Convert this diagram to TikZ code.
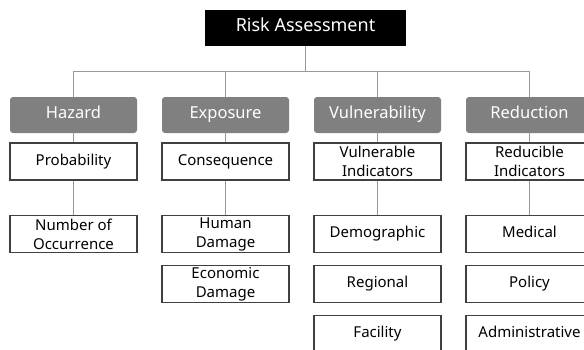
\documentclass[tikz,border=0pt]{standalone}
\usepackage{fontspec}
\setmainfont{Noto Sans}
\usetikzlibrary{positioning,calc}
\tikzstyle{rootbox} = [
rectangle,
fill=black,
text=white,
minimum width=201pt,
minimum height=36pt,
text height=0.75em,
text depth=0.04em,
font=\fontsize{18}{20}\selectfont
]
\tikzstyle{group} = [
rectangle,
rounded corners=3pt,
fill=black!50,
text=white,
minimum width=127pt,
minimum height=36pt,
text height=0.75em,
text depth=0.04em,
font=\fontsize{16.5}{19}\selectfont
]
\tikzstyle{item} = [
rectangle,
draw=black!75,
line width=1.2pt,
fill=white,
minimum width=127pt,
minimum height=37pt,
inner sep=0pt,
font=\fontsize{15}{19}\selectfont
]
\tikzstyle{oneline} = [
item,
text height=0.75em,
text depth=0.04em
]
\tikzstyle{link} = [
draw=black!40,
line width=1pt
]

\begin{document}
\begin{tikzpicture}[
	align=center,
	x=1pt,
	y=1pt,
	node distance=152pt
	]
	
	\useasboundingbox (0,0) rectangle (584,-349);
	
	\node[rootbox] (risk) at (305.5,-28) {Risk Assessment};
	
	\node[group] (hazard) at (73.5,-115) {Hazard};
	\node[group,right of=hazard] (exposure) {Exposure};
	\node[group,right of=exposure] (vuln) {Vulnerability};
	\node[group,right of=vuln] (reduction) {Reduction};
	
	% first row under each group
	\node[oneline,below of=hazard,node distance=46.5pt] (prob) {Probability};
	\node[oneline,below of=exposure,node distance=46.5pt] (conseq) {Consequence};
	\node[item,below of=vuln,node distance=46.5pt] (vulnind) {Vulnerable\\Indicators};
	\node[item,below of=reduction,node distance=46.5pt] (redind) {Reducible\\Indicators};
	
	% lower rows
	\node[item,below of=prob,node distance=72.5pt] (number) {Number of\\Occurrence};
	\node[item,below of=conseq,node distance=72.5pt] (human) {Human\\Damage};
	\node[item,below of=human,node distance=50pt] (economic) {Economic\\Damage};
	\node[oneline,below of=vulnind,node distance=72.5pt] (demo) {Demographic};
	\node[oneline,below of=demo,node distance=50pt] (regional) {Regional};
	\node[oneline,below of=regional,node distance=50pt] (facility) {Facility};
	\node[oneline,below of=redind,node distance=72.5pt] (medical) {Medical};
	\node[oneline,below of=medical,node distance=50pt] (policy) {Policy};
	\node[oneline,below of=policy,node distance=50pt] (admin) {Administrative};
	
	\path[link] (risk.south) -- ++(0,-25) -| (hazard.north);
	\path[link] (risk.south) -- ++(0,-25) -| (exposure.north);
	\path[link] (risk.south) -- ++(0,-25) -| (vuln.north);
	\path[link] (risk.south) -- ++(0,-25) -| (reduction.north);
	\path[link] (hazard) -- (prob) (prob) -- (number);
	\path[link] (exposure) -- (conseq) (conseq) -- (human);
	\path[link] (vuln) -- (vulnind) (vulnind) -- (demo);
	\path[link] (reduction) -- (redind) (redind) -- (medical);
\end{tikzpicture}
\end{document}
